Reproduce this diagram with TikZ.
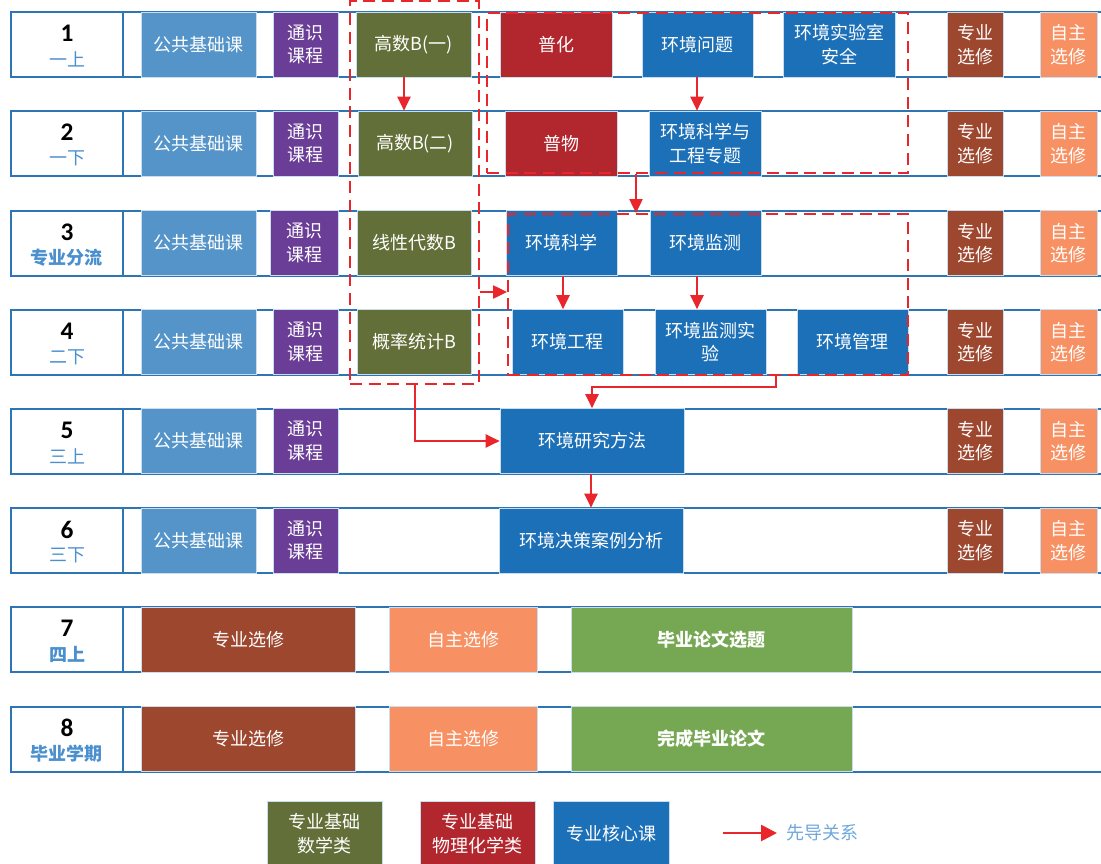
\documentclass[tikz,border=0pt]{standalone}
\usepackage{fontspec}
\setmainfont{Noto Sans CJK SC}
\newfontfamily\numfont{Carlito}
\usetikzlibrary{arrows.meta,calc}
\definecolor{rowblue}{HTML}{2E75B6}
\definecolor{lblblue}{HTML}{4A8FCE}
\definecolor{pubblue}{HTML}{5494C9}
\definecolor{genpur}{HTML}{6A3D97}
\definecolor{mathol}{HTML}{636F38}
\definecolor{phyred}{HTML}{B2262E}
\definecolor{coreblue}{HTML}{1C70B7}
\definecolor{zybrown}{HTML}{9E472F}
\definecolor{zzorange}{HTML}{F79163}
\definecolor{thgreen}{HTML}{76A853}
\definecolor{arrred}{HTML}{E8262B}
\definecolor{cellborder}{HTML}{C9DDF0}
\definecolor{legtext}{HTML}{6FA8DC}
\tikzset{
  rowline/.style={draw=rowblue, line width=1.5pt},
  cell/.style={draw=cellborder, line width=0.6pt, text=white, minimum height=48.75pt,
    inner sep=0pt, align=center, font=\fontsize{13.5}{17.5}\selectfont},
  dbox/.style={draw=arrred, line width=1.5pt, dash pattern=on 9pt off 5pt, inner sep=0pt},
  arr/.style={draw=arrred, line width=1pt, -{Triangle[length=10.5pt,width=10pt]}},
  numtxt/.style={font=\numfont\bfseries\fontsize{19}{20}\selectfont, text=black, inner sep=0pt},
  semtxt/.style={font=\fontsize{13.5}{15}\selectfont, text=lblblue, inner sep=0pt},
  semtxtb/.style={font=\bfseries\fontsize{13.5}{15}\selectfont, text=lblblue, inner sep=0pt},
}
% cell: name, x1, x2, top, fill, text
\newcommand\cb[6]{\pgfmathsetmacro\cbw{(#3-#2)*0.75}%
  \node[cell, fill=#5, minimum width=\cbw pt] (#1) at ({(#2+#3)/2},{#4+32.5}) {#6};}
% dashed box: name, x1, x2, y1, y2
\newcommand\dbx[5]{\pgfmathsetmacro\dbw{(#3-#2)*0.75}\pgfmathsetmacro\dbh{(#5-#4)*0.75}%
  \node[dbox, minimum width=\dbw pt, minimum height=\dbh pt] (#1) at ({(#2+#3)/2},{(#4+#5)/2}) {};}
% row: top, name, number, label, label style
\newcommand\rowbg[5]{%
  \draw[rowline] (11,#1) -- (1101,#1);
  \draw[rowline] (11,#1+65) -- (1101,#1+65);
  \node[rowline, minimum width=84pt, minimum height=48.75pt, inner sep=0pt] (#2) at (67,#1+32.5) {};
  \node[numtxt] (#2n) at (67,#1+21.5) {#3};
  \node[#5] (#2l) at (67,#1+47.5) {#4};}
\begin{document}
\begin{tikzpicture}[x=0.75pt,y=-0.75pt]
\clip (0,0) rectangle (1101,864);
\fill[white] (0,0) rectangle (1101,864);
\def\TA{12}\def\TB{111}\def\TC{210.5}\def\TD{309.5}
\def\TE{408.5}\def\TF{508}\def\TG{607}\def\TH{706.5}
\rowbg{\TA}{sA}{1}{一上}{semtxt}
\rowbg{\TB}{sB}{2}{一下}{semtxt}
\rowbg{\TC}{sC}{3}{专业分流}{semtxtb}
\rowbg{\TD}{sD}{4}{二下}{semtxt}
\rowbg{\TE}{sE}{5}{三上}{semtxt}
\rowbg{\TF}{sF}{6}{三下}{semtxt}
\rowbg{\TG}{sG}{7}{四上}{semtxtb}
\rowbg{\TH}{sH}{8}{毕业学期}{semtxtb}
% row 1
\cb{pub1}{141}{256}{\TA}{pubblue}{公共基础课}
\cb{gen1}{273}{338}{\TA}{genpur}{通识\\课程}
\cb{mA}{356}{471}{\TA}{mathol}{高数B(一)}
\cb{chA}{500}{612}{\TA}{phyred}{普化}
\cb{eA}{642}{753}{\TA}{coreblue}{环境问题}
\cb{eB}{783}{895}{\TA}{coreblue}{环境实验室\\安全}
\cb{zy1}{947}{1003}{\TA}{zybrown}{专业\\选修}
\cb{zz1}{1040}{1097}{\TA}{zzorange}{自主\\选修}
% row 2
\cb{pub2}{141}{256}{\TB}{pubblue}{公共基础课}
\cb{gen2}{273}{338}{\TB}{genpur}{通识\\课程}
\cb{mB}{358}{472}{\TB}{mathol}{高数B(二)}
\cb{chB}{505}{617}{\TB}{phyred}{普物}
\cb{eC}{649}{761}{\TB}{coreblue}{环境科学与\\工程专题}
\cb{zy2}{947}{1003}{\TB}{zybrown}{专业\\选修}
\cb{zz2}{1040}{1097}{\TB}{zzorange}{自主\\选修}
% row 3
\cb{pub3}{141}{256}{\TC}{pubblue}{公共基础课}
\cb{gen3}{270}{338}{\TC}{genpur}{通识\\课程}
\cb{mC}{357}{471}{\TC}{mathol}{线性代数B}
\cb{eD}{506}{617}{\TC}{coreblue}{环境科学}
\cb{eE}{650}{761}{\TC}{coreblue}{环境监测}
\cb{zy3}{947}{1003}{\TC}{zybrown}{专业\\选修}
\cb{zz3}{1040}{1097}{\TC}{zzorange}{自主\\选修}
% row 4
\cb{pub4}{141}{256}{\TD}{pubblue}{公共基础课}
\cb{gen4}{273}{338}{\TD}{genpur}{通识\\课程}
\cb{mD}{357}{471}{\TD}{mathol}{概率统计B}
\cb{eF}{512}{623}{\TD}{coreblue}{环境工程}
\cb{eG}{655}{766}{\TD}{coreblue}{环境监测实\\验}
\cb{eH}{797}{908}{\TD}{coreblue}{环境管理}
\cb{zy4}{947}{1003}{\TD}{zybrown}{专业\\选修}
\cb{zz4}{1040}{1097}{\TD}{zzorange}{自主\\选修}
% row 5
\cb{pub5}{141}{256}{\TE}{pubblue}{公共基础课}
\cb{gen5}{273}{338}{\TE}{genpur}{通识\\课程}
\cb{eI}{500}{684}{\TE}{coreblue}{环境研究方法}
\cb{zy5}{947}{1003}{\TE}{zybrown}{专业\\选修}
\cb{zz5}{1040}{1097}{\TE}{zzorange}{自主\\选修}
% row 6
\cb{pub6}{141}{256}{\TF}{pubblue}{公共基础课}
\cb{gen6}{273}{338}{\TF}{genpur}{通识\\课程}
\cb{eJ}{499}{683}{\TF}{coreblue}{环境决策案例分析}
\cb{zy6}{947}{1003}{\TF}{zybrown}{专业\\选修}
\cb{zz6}{1040}{1097}{\TF}{zzorange}{自主\\选修}
% row 7
\cb{zy7}{141}{355}{\TG}{zybrown}{专业选修}
\cb{zz7}{389}{537}{\TG}{zzorange}{自主选修}
\cb{th7}{571}{852}{\TG}{thgreen}{\bfseries 毕业论文选题}
% row 8
\cb{zy8}{141}{355}{\TH}{zybrown}{专业选修}
\cb{zz8}{389}{537}{\TH}{zzorange}{自主选修}
\cb{th8}{571}{852}{\TH}{thgreen}{\bfseries 完成毕业论文}
% dashed groups
\dbx{dA}{350}{479}{0.8}{384}
\dbx{dB}{487}{908}{13}{173}
\dbx{dC}{508}{908}{214}{375}
% arrows
\coordinate (x1) at (404,0);
\coordinate (x2) at (697,0);
\coordinate (x3) at (636,0);
\coordinate (y4) at (0,292);
\coordinate (x5) at (563,0);
\coordinate (x6) at (697,0);
\coordinate (c7) at (776,387);
\coordinate (x8) at (415,0);
\draw[arr] (mA.south -| x1) -- (mB.north -| x1);
\draw[arr] (eA.south -| x2) -- (eC.north -| x2);
\draw[arr] (dB.south -| x3) -- (dC.north -| x3);
\draw[arr] (dA.east |- y4) -- (dC.west |- y4);
\draw[arr] (eD.south -| x5) -- (eF.north -| x5);
\draw[arr] (eE.south -| x6) -- (eG.north -| x6);
\draw[arr] (dC.south -| c7) -- (c7) -- (c7 -| eI) -- (eI.north);
\draw[arr] (dA.south -| x8) |- (eI.west);
\draw[arr] (eI.south -| eJ) -- (eJ.north);
% legend
\cb{lgA}{267}{382}{801}{mathol}{专业基础\\数学类}
\cb{lgB}{420}{535}{801}{phyred}{专业基础\\物理化学类}
\cb{lgC}{553}{669}{801}{coreblue}{专业核心课}
\coordinate (la1) at (723,833);
\coordinate (la2) at (777,833);
\draw[draw=arrred, line width=2pt, -{Triangle[length=12pt,width=12pt]}] (la1) -- (la2);
\node[text=legtext, font=\fontsize{13.5}{15}\selectfont, inner sep=0pt] (lgT) at (822,833) {先导关系};
\end{tikzpicture}
\end{document}
